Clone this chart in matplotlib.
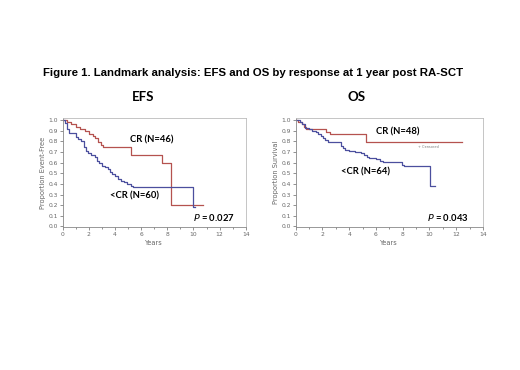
import numpy as np
import matplotlib.pyplot as plt

# EFS curves (years, proportion event-free)
efs_cr_t = [0, 0.3, 0.6, 1.0, 1.3, 1.7, 2.0, 2.3, 2.5, 2.7, 2.9, 3.1, 5.2, 7.6, 8.3, 10.7]
efs_cr_s = [1.0, 0.98, 0.96, 0.94, 0.92, 0.90, 0.87, 0.85, 0.83, 0.79, 0.77, 0.75, 0.67, 0.60, 0.20, 0.20]
efs_lt_t = [0, 0.15, 0.3, 0.45, 1.0, 1.15, 1.4, 1.6, 1.75, 1.95, 2.2, 2.45, 2.6, 2.8, 3.0,
            3.2, 3.45, 3.65, 3.8, 4.0, 4.25, 4.45, 4.7, 4.95, 5.2, 5.4, 10.0, 10.15]
efs_lt_s = [1.0, 0.97, 0.92, 0.88, 0.84, 0.82, 0.80, 0.75, 0.71, 0.69, 0.67, 0.65, 0.62, 0.60, 0.57,
            0.56, 0.54, 0.51, 0.49, 0.47, 0.45, 0.43, 0.42, 0.40, 0.38, 0.37, 0.18, 0.18]

# OS curves (years, proportion surviving)
os_cr_t = [0, 0.2, 0.45, 0.65, 0.8, 2.3, 2.55, 5.25, 12.4]
os_cr_s = [1.0, 0.98, 0.96, 0.94, 0.92, 0.89, 0.87, 0.79, 0.79]
os_lt_t = [0, 0.3, 0.5, 0.7, 1.0, 1.2, 1.5, 1.65, 1.9, 2.05, 2.2, 2.4, 3.35, 3.5, 3.7, 4.0,
           4.4, 4.9, 5.1, 5.3, 5.5, 6.0, 6.3, 6.5, 7.95, 8.1, 10.05, 10.45]
os_lt_s = [1.0, 0.98, 0.96, 0.93, 0.92, 0.90, 0.89, 0.87, 0.85, 0.83, 0.81, 0.79, 0.76, 0.74, 0.72, 0.71,
           0.70, 0.69, 0.67, 0.65, 0.64, 0.63, 0.62, 0.61, 0.58, 0.57, 0.38, 0.38]

panels = [
    ("EFS", "Proportion Event-Free", efs_cr_t, efs_cr_s, efs_lt_t, efs_lt_s,
     "CR (N=46)", (6.8, 0.81), "<CR (N=60)", (5.5, 0.29), "0.027", (11.6, 0.08)),
    ("OS", "Proportion Survival", os_cr_t, os_cr_s, os_lt_t, os_lt_s,
     "CR (N=48)", (7.65, 0.885), "<CR (N=64)", (5.25, 0.51), "0.043", (11.4, 0.08)),
]

red = "#b5524f"
blue = "#4b4f9e"
gray = "#666666"

fig = plt.figure(figsize=(5.2, 3.7), dpi=100)
fig.text(0.486, 0.803, "Figure 1. Landmark analysis: EFS and OS by response at 1 year post RA-SCT",
         ha="center", va="center", fontsize=8.2, fontweight="bold", family="Liberation Sans")

boxes = [[0.1206, 0.3865, 0.352, 0.2946], [0.5687, 0.3865, 0.360, 0.2946]]
heads = [0.2756, 0.686]

for box, hx, p in zip(boxes, heads, panels):
    name, ylab, ct, cs, lt, ls, clab, cpos, llab, lpos, pval, ppos = p
    ax = fig.add_axes(box)
    ax.step(ct, cs, where="post", color=red, lw=0.9)
    ax.step(lt, ls, where="post", color=blue, lw=0.9)
    ax.set_xlim(0, 14)
    ax.set_ylim(-0.005, 1.02)
    ax.set_xticks(np.arange(0, 15, 2))
    ax.set_xticks(np.arange(0, 15, 1), minor=True)
    ax.set_yticks(np.arange(0, 1.01, 0.1))
    ax.set_yticklabels([f"{v:.1f}" for v in np.arange(0, 1.01, 0.1)])
    ax.tick_params(labelsize=4.3, colors=gray, length=2, width=0.5, pad=1.5)
    ax.tick_params(which="minor", length=1.5, width=0.5, colors=gray)
    for s in ax.spines.values():
        s.set_color("#bbbbbb")
        s.set_linewidth(0.6)
    ax.spines["left"].set_color("#888888")
    ax.spines["bottom"].set_color("#888888")
    ax.set_xlabel("Years", fontsize=4.8, color=gray, labelpad=2)
    ax.set_ylabel(ylab, fontsize=4.8, color=gray, labelpad=2)
    ax.text(*cpos, clab, ha="center", va="center", fontsize=6.8, fontweight="bold", family="Lato")
    ax.text(*lpos, llab, ha="center", va="center", fontsize=6.8, fontweight="bold", family="Lato")
    ax.text(*ppos, r"$\bf\it{P}$" + " = " + pval, ha="center", va="center",
            fontsize=6.8, fontweight="bold", family="Lato")
    fig.text(hx, 0.739, name, ha="center", va="center", fontsize=9.5, fontweight="bold", family="Lato")

fig.axes[1].text(9.9, 0.745, "+ Censored", fontsize=2.5, color="#777777", ha="center", va="center")

fig.savefig("out.png", dpi=100)
